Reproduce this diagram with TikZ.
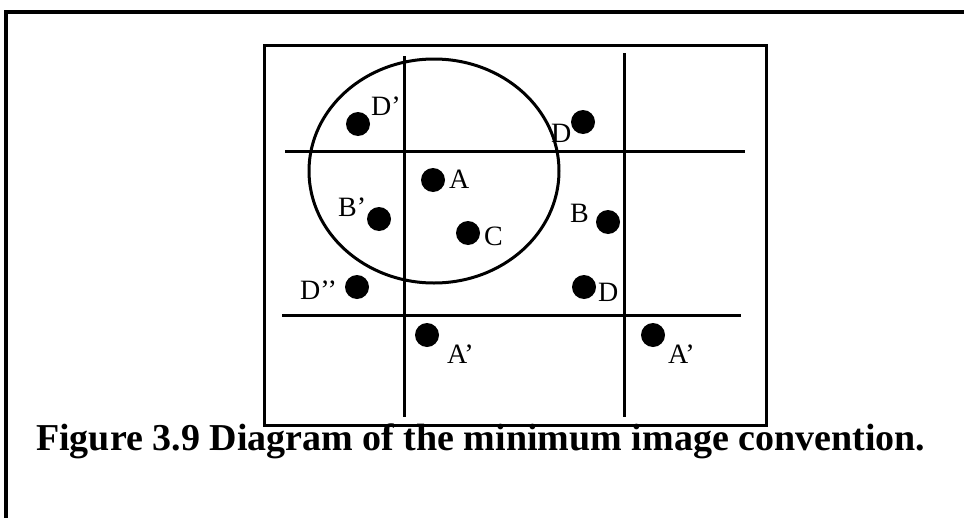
\documentclass[tikz,border=0pt]{standalone}
\usepackage{fontspec}
\setmainfont{Liberation Serif}
\begin{document}
\begin{tikzpicture}[x=1pt,y=-1pt,
  frame/.style={line width=3.2pt},
  grid/.style={line width=3pt},
  dot/.style={circle,fill=black,inner sep=0pt,minimum size=24pt},
  lbl/.style={font=\fontsize{28}{28}\selectfont,inner sep=0pt,anchor=base west},
  caption/.style={font=\fontsize{38}{38}\selectfont\bfseries,inner sep=0pt,anchor=base west}]
\useasboundingbox (0,0) rectangle (964,522);
% outer frame (top and left)
\coordinate (ftl) at (6,12);
\coordinate (ftr) at (964,12);
\coordinate (fbl) at (6,518);
\draw[frame] (ftr) -- (ftl) -- (fbl);
% inner box
\coordinate (bx1) at (264,45);
\coordinate (bx2) at (766,425);
\draw[grid] (bx1) rectangle (bx2);
% grid lines
\coordinate (h1a) at (285,151); \coordinate (h1b) at (745,151);
\coordinate (h2a) at (282,315); \coordinate (h2b) at (741,315);
\coordinate (v1a) at (404,56);  \coordinate (v1b) at (404,417);
\coordinate (v2a) at (624,53);  \coordinate (v2b) at (624,417);
\draw[grid] (h1a) -- (h1b);
\draw[grid] (h2a) -- (h2b);
\draw[grid] (v1a) -- (v1b);
\draw[grid] (v2a) -- (v2b);
% cutoff circle
\coordinate (cc) at (434,171);
\draw[grid] (cc) ellipse [x radius=125, y radius=112];
% particles
\node[dot] (pDp)  at (358,124) {};
\node[dot] (pDt)  at (583,122) {};
\node[dot] (pA)   at (433,180) {};
\node[dot] (pBp)  at (379,219) {};
\node[dot] (pC)   at (468,233) {};
\node[dot] (pB)   at (608,222) {};
\node[dot] (pDpp) at (357,287) {};
\node[dot] (pDb)  at (584,287) {};
\node[dot] (pAp1) at (427,335) {};
\node[dot] (pAp2) at (653,335) {};
% labels
\node[lbl] (lDp)  at (371,115) {D’};
\node[lbl] (lDt)  at (551,142) {D};
\node[lbl] (lA)   at (449,188) {A};
\node[lbl] (lBp)  at (338,216) {B’};
\node[lbl] (lC)   at (484,245) {C};
\node[lbl] (lB)   at (570,222) {B};
\node[lbl] (lDpp) at (300,299) {D’’};
\node[lbl] (lDb)  at (598,301) {D};
\node[lbl] (lAp1) at (447,363) {A’};
\node[lbl] (lAp2) at (668,363) {A’};
% caption
\node[caption] (cap) at (36,450) {Figure 3.9 Diagram of the minimum image convention.};
\end{tikzpicture}
\end{document}
